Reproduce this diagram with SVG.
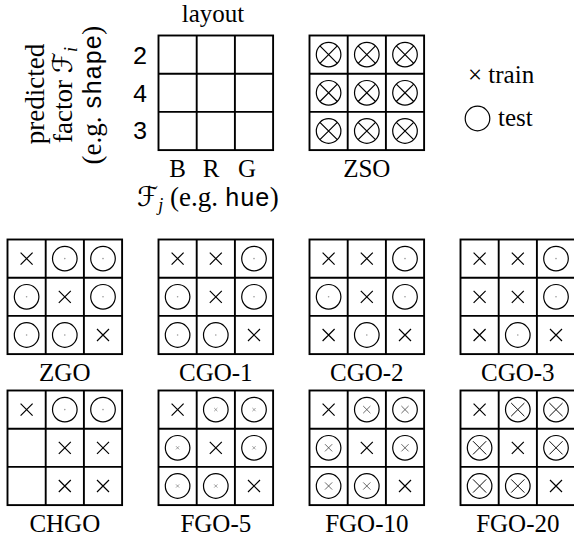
<svg xmlns="http://www.w3.org/2000/svg" xmlns:xlink="http://www.w3.org/1999/xlink" width="574" height="537" viewBox="0 0 574 537">
<style>
.grid{fill:none;stroke:#000;stroke-width:1.9}
.lbl{font-family:"Liberation Serif","Times New Roman",serif;font-size:25px;fill:#000}
.ax{font-family:"Liberation Serif","Times New Roman",serif;font-size:27px;fill:#000}
.mono{font-family:"Liberation Mono","Courier New",monospace;font-size:25px}
.cal{font-family:"DejaVu Sans",sans-serif;font-style:normal;font-weight:normal}
.mk{fill:none;stroke:#000;stroke-width:1.2}
</style>
<defs>
<g id="tr"><path class="mk" d="M-6,-6L6,6M6,-6L-6,6"/></g>
<g id="t0"><circle class="mk" r="12.3"/><circle r="0.8" fill="#999"/></g>
<g id="t5"><circle class="mk" r="12.3"/><path d="M-1.6,-1.6L1.6,1.6M1.6,-1.6L-1.6,1.6" stroke="#777" stroke-width="0.7" fill="none"/></g>
<g id="t10"><circle class="mk" r="12.3"/><path d="M-3.6,-3.6L3.6,3.6M3.6,-3.6L-3.6,3.6" stroke="#444" stroke-width="0.8" fill="none"/></g>
<g id="t20"><circle class="mk" r="12.3"/><path d="M-6.6,-6.6L6.6,6.6M6.6,-6.6L-6.6,6.6" stroke="#111" stroke-width="1" fill="none"/></g>
<g id="tz"><circle class="mk" r="12.3"/><path class="mk" d="M-8.7,-8.7L8.7,8.7M8.7,-8.7L-8.7,8.7"/></g>
<g id="g3"><rect class="grid" x="0" y="0" width="114.6" height="114.6"/><path class="grid" d="M38.2,0V114.6M76.4,0V114.6M0,38.2H114.6M0,76.4H114.6"/></g>
</defs>
<rect width="574" height="537" fill="#fff"/>

<g id="layout">
<text class="lbl" x="213" y="22" text-anchor="middle" font-size="26">layout</text>
<use xlink:href="#g3" x="158.5" y="35.5"/>
<text class="mono" x="140" y="64" text-anchor="middle">2</text>
<text class="mono" x="140" y="102" text-anchor="middle">4</text>
<text class="mono" x="140" y="139" text-anchor="middle">3</text>
<text class="lbl" x="177.5" y="177" text-anchor="middle">B</text>
<text class="lbl" x="211" y="177" text-anchor="middle">R</text>
<text class="lbl" x="247" y="177" text-anchor="middle">G</text>
<text class="ax" x="137" y="206" font-size="28"><tspan class="cal" font-style="italic">ℱ</tspan><tspan font-style="italic" font-size="18" dy="5">j</tspan><tspan dy="-5"> (e.g. </tspan><tspan class="mono" font-size="26">hue</tspan>)</text>
<text class="ax" transform="translate(44,94) rotate(-90)" text-anchor="middle">predicted</text>
<text class="ax" transform="translate(72,95) rotate(-90)" text-anchor="middle">factor <tspan class="cal" font-style="italic">ℱ</tspan><tspan font-style="italic" font-size="18" dy="5">i</tspan></text>
<text class="ax" transform="translate(101,95) rotate(-90)" text-anchor="middle">(e.g. <tspan class="mono">shape</tspan>)</text>
</g>

<g id="zso" transform="translate(309.5,35.5)">
<use xlink:href="#g3"/>
<use xlink:href="#tz" x="19.1" y="19.1"/><use xlink:href="#tz" x="57.3" y="19.1"/><use xlink:href="#tz" x="95.5" y="19.1"/>
<use xlink:href="#tz" x="19.1" y="57.3"/><use xlink:href="#tz" x="57.3" y="57.3"/><use xlink:href="#tz" x="95.5" y="57.3"/>
<use xlink:href="#tz" x="19.1" y="95.5"/><use xlink:href="#tz" x="57.3" y="95.5"/><use xlink:href="#tz" x="95.5" y="95.5"/>
<text class="lbl" x="57.3" y="141.5" text-anchor="middle">ZSO</text>
</g>

<g id="legend">
<text class="lbl" x="468" y="83">× train</text>
<circle class="mk" cx="477.5" cy="118.5" r="12.3"/>
<text class="lbl" x="498" y="126">test</text>
</g>

<g id="zgo" transform="translate(7.5,239.5)">
<use xlink:href="#g3"/>
<use xlink:href="#tr" x="19.1" y="19.1"/><use xlink:href="#t0" x="57.3" y="19.1"/><use xlink:href="#t0" x="95.5" y="19.1"/>
<use xlink:href="#t0" x="19.1" y="57.3"/><use xlink:href="#tr" x="57.3" y="57.3"/><use xlink:href="#t0" x="95.5" y="57.3"/>
<use xlink:href="#t0" x="19.1" y="95.5"/><use xlink:href="#t0" x="57.3" y="95.5"/><use xlink:href="#tr" x="95.5" y="95.5"/>
<text class="lbl" x="57.3" y="141" text-anchor="middle">ZGO</text>
</g>

<g id="cgo1" transform="translate(158.5,239.5)">
<use xlink:href="#g3"/>
<use xlink:href="#tr" x="19.1" y="19.1"/><use xlink:href="#tr" x="57.3" y="19.1"/><use xlink:href="#t0" x="95.5" y="19.1"/>
<use xlink:href="#t0" x="19.1" y="57.3"/><use xlink:href="#tr" x="57.3" y="57.3"/><use xlink:href="#t0" x="95.5" y="57.3"/>
<use xlink:href="#t0" x="19.1" y="95.5"/><use xlink:href="#t0" x="57.3" y="95.5"/><use xlink:href="#tr" x="95.5" y="95.5"/>
<text class="lbl" x="57.3" y="141" text-anchor="middle">CGO-1</text>
</g>

<g id="cgo2" transform="translate(309.5,239.5)">
<use xlink:href="#g3"/>
<use xlink:href="#tr" x="19.1" y="19.1"/><use xlink:href="#tr" x="57.3" y="19.1"/><use xlink:href="#t0" x="95.5" y="19.1"/>
<use xlink:href="#t0" x="19.1" y="57.3"/><use xlink:href="#tr" x="57.3" y="57.3"/><use xlink:href="#t0" x="95.5" y="57.3"/>
<use xlink:href="#tr" x="19.1" y="95.5"/><use xlink:href="#t0" x="57.3" y="95.5"/><use xlink:href="#tr" x="95.5" y="95.5"/>
<text class="lbl" x="57.3" y="141" text-anchor="middle">CGO-2</text>
</g>

<g id="cgo3" transform="translate(460.5,239.5)">
<use xlink:href="#g3"/>
<use xlink:href="#tr" x="19.1" y="19.1"/><use xlink:href="#tr" x="57.3" y="19.1"/><use xlink:href="#t0" x="95.5" y="19.1"/>
<use xlink:href="#tr" x="19.1" y="57.3"/><use xlink:href="#tr" x="57.3" y="57.3"/><use xlink:href="#t0" x="95.5" y="57.3"/>
<use xlink:href="#tr" x="19.1" y="95.5"/><use xlink:href="#t0" x="57.3" y="95.5"/><use xlink:href="#tr" x="95.5" y="95.5"/>
<text class="lbl" x="57.3" y="141" text-anchor="middle">CGO-3</text>
</g>

<g id="chgo" transform="translate(7.5,390.5)">
<use xlink:href="#g3"/>
<use xlink:href="#tr" x="19.1" y="19.1"/><use xlink:href="#t0" x="57.3" y="19.1"/><use xlink:href="#t0" x="95.5" y="19.1"/>
<use xlink:href="#tr" x="57.3" y="57.3"/><use xlink:href="#tr" x="95.5" y="57.3"/>
<use xlink:href="#tr" x="57.3" y="95.5"/><use xlink:href="#tr" x="95.5" y="95.5"/>
<text class="lbl" x="57.3" y="141.5" text-anchor="middle">CHGO</text>
</g>

<g id="fgo5" transform="translate(158.5,390.5)">
<use xlink:href="#g3"/>
<use xlink:href="#tr" x="19.1" y="19.1"/><use xlink:href="#t5" x="57.3" y="19.1"/><use xlink:href="#t5" x="95.5" y="19.1"/>
<use xlink:href="#t5" x="19.1" y="57.3"/><use xlink:href="#tr" x="57.3" y="57.3"/><use xlink:href="#t5" x="95.5" y="57.3"/>
<use xlink:href="#t5" x="19.1" y="95.5"/><use xlink:href="#t5" x="57.3" y="95.5"/><use xlink:href="#tr" x="95.5" y="95.5"/>
<text class="lbl" x="57.3" y="141.5" text-anchor="middle">FGO-5</text>
</g>

<g id="fgo10" transform="translate(309.5,390.5)">
<use xlink:href="#g3"/>
<use xlink:href="#tr" x="19.1" y="19.1"/><use xlink:href="#t10" x="57.3" y="19.1"/><use xlink:href="#t10" x="95.5" y="19.1"/>
<use xlink:href="#t10" x="19.1" y="57.3"/><use xlink:href="#tr" x="57.3" y="57.3"/><use xlink:href="#t10" x="95.5" y="57.3"/>
<use xlink:href="#t10" x="19.1" y="95.5"/><use xlink:href="#t10" x="57.3" y="95.5"/><use xlink:href="#tr" x="95.5" y="95.5"/>
<text class="lbl" x="57.3" y="141.5" text-anchor="middle">FGO-10</text>
</g>

<g id="fgo20" transform="translate(460.5,390.5)">
<use xlink:href="#g3"/>
<use xlink:href="#tr" x="19.1" y="19.1"/><use xlink:href="#t20" x="57.3" y="19.1"/><use xlink:href="#t20" x="95.5" y="19.1"/>
<use xlink:href="#t20" x="19.1" y="57.3"/><use xlink:href="#tr" x="57.3" y="57.3"/><use xlink:href="#t20" x="95.5" y="57.3"/>
<use xlink:href="#t20" x="19.1" y="95.5"/><use xlink:href="#t20" x="57.3" y="95.5"/><use xlink:href="#tr" x="95.5" y="95.5"/>
<text class="lbl" x="57.3" y="141.5" text-anchor="middle">FGO-20</text>
</g>
</svg>
